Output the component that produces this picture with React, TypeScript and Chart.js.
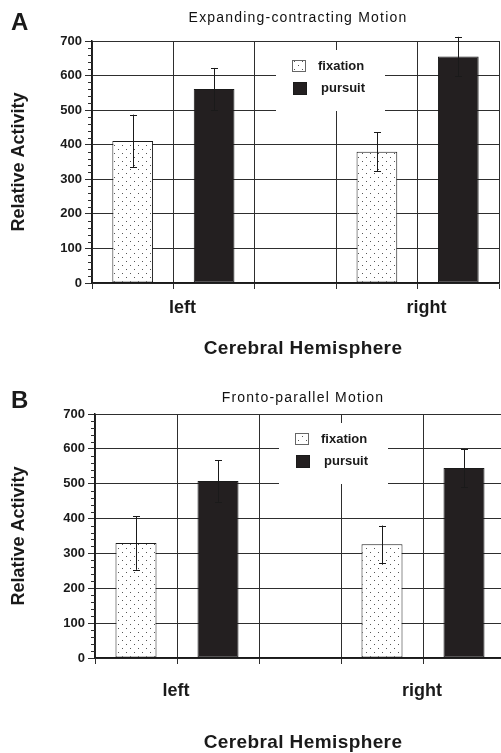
import React, { useEffect, useRef } from 'react';
import { Chart, registerables } from 'chart.js';

Chart.register(...registerables);

// ---------- data ----------
const categories = ['left', 'right'];
const seriesNames = ['fixation', 'pursuit'];
const yMin = 0;
const yMax = 700;
const yStep = 100;
const yMinorStep = 20;

const expandingFixation = [411, 380];
const expandingFixationErr = [76, 56];
const expandingPursuit = [561, 655];
const expandingPursuitErr = [61, 57];

const frontoFixation = [330, 326];
const frontoFixationErr = [77, 54];
const frontoPursuit = [508, 545];
const frontoPursuitErr = [60, 55];

const panelLetters = ['A', 'B'];
const panelTitles = ['Expanding-contracting Motion', 'Fronto-parallel Motion'];
const yTitle = 'Relative Activity';
const xTitle = 'Cerebral Hemisphere';

// ---------- layout ----------
const FONT = '"Liberation Sans", Arial, Helvetica, sans-serif';
const INK = '#1a1a1a';
const GRID = '#2e2e2e';

const groupCenter = (i: number) => 1 + 3 * i;

type Layout = {
  width: number; height: number; top: number;
  padTop: number; padRight: number; yWidth: number; xHeight: number;
  tickPad: number; labelOffset: number;
  letterBaseline: number; titleX: number; titleBaseline: number;
  xTitleX: number; xTitleBaseline: number;
};

const layouts: Layout[] = [
  { width: 501, height: 375, top: 0, padTop: 41, padRight: 2, yWidth: 92, xHeight: 92,
    tickPad: 8, labelOffset: 9, letterBaseline: 30, titleX: 298, titleBaseline: 22,
    xTitleX: 303, xTitleBaseline: 354 },
  { width: 510, height: 378, top: 375, padTop: 39, padRight: 5, yWidth: 95, xHeight: 95,
    tickPad: 16, labelOffset: -1, letterBaseline: 33, titleX: 303, titleBaseline: 27,
    xTitleX: 303, xTitleBaseline: 373 },
];

function makePattern(): CanvasPattern | string {
  const tile = document.createElement('canvas');
  tile.width = 8;
  tile.height = 8;
  const t = tile.getContext('2d');
  if (!t) return '#fff';
  t.fillStyle = '#ffffff';
  t.fillRect(0, 0, 8, 8);
  t.fillStyle = '#555555';
  t.fillRect(2, 1, 1, 1);
  t.fillRect(6, 5, 1, 1);
  const ctx = document.createElement('canvas').getContext('2d');
  const p = ctx ? ctx.createPattern(tile, 'repeat') : null;
  return p || '#fff';
}

type PanelProps = {
  index: number;
  fixation: number[]; fixationErr: number[];
  pursuit: number[]; pursuitErr: number[];
};

function Panel({ index, fixation, fixationErr, pursuit, pursuitErr }: PanelProps) {
  const ref = useRef<HTMLCanvasElement | null>(null);
  const L = layouts[index];

  useEffect(() => {
    const canvas = ref.current;
    if (!canvas) return;
    const pattern = makePattern();
    const errs = [fixationErr, pursuitErr];

    const decor = {
      id: 'decor' + index,
      afterDraw(chart: any) {
        const ctx = chart.ctx as CanvasRenderingContext2D;
        const area = chart.chartArea;
        const ys = chart.scales.y;
        ctx.save();
        // minor ticks on y axis
        ctx.strokeStyle = GRID;
        ctx.lineWidth = 1;
        for (let v = yMin; v <= yMax; v += yMinorStep) {
          if (v % yStep === 0) continue;
          const py = Math.round(ys.getPixelForValue(v)) + 0.5;
          ctx.beginPath();
          ctx.moveTo(area.left - 4, py);
          ctx.lineTo(area.left, py);
          ctx.stroke();
        }
        // error bars
        ctx.strokeStyle = INK;
        chart.data.datasets.forEach((ds: any, di: number) => {
          const meta = chart.getDatasetMeta(di);
          meta.data.forEach((el: any, i: number) => {
            const v = ds.data[i].y;
            const e = errs[di][i];
            const px = Math.round(el.x) + 0.5;
            const yt = ys.getPixelForValue(v + e);
            const yb = ys.getPixelForValue(v - e);
            ctx.beginPath();
            ctx.moveTo(px, yt);
            ctx.lineTo(px, yb);
            ctx.moveTo(px - 3.5, Math.round(yt) + 0.5);
            ctx.lineTo(px + 3.5, Math.round(yt) + 0.5);
            ctx.moveTo(px - 3.5, Math.round(yb) + 0.5);
            ctx.lineTo(px + 3.5, Math.round(yb) + 0.5);
            ctx.stroke();
          });
        });
        // legend box
        const lx = area.left + 184;
        const ly = area.top + 9;
        ctx.fillStyle = '#ffffff';
        ctx.fillRect(lx, ly, 109, 61);
        const swatches = [
          { x: area.left + 200, y: area.top + 19, w: 14, h: 12, tx: area.left + 226, ty: area.top + 25 },
          { x: area.left + 201, y: area.top + 41, w: 14, h: 13, tx: area.left + 229, ty: area.top + 47 },
        ];
        chart.data.datasets.forEach((ds: any, di: number) => {
          const s = swatches[di];
          ctx.fillStyle = ds.backgroundColor;
          ctx.fillRect(s.x, s.y, s.w, s.h);
          ctx.strokeStyle = di === 0 ? '#666' : INK;
          ctx.lineWidth = 1;
          ctx.strokeRect(s.x + 0.5, s.y + 0.5, s.w - 1, s.h - 1);
          ctx.fillStyle = INK;
          ctx.font = `bold 13px ${FONT}`;
          ctx.textAlign = 'left';
          ctx.textBaseline = 'middle';
          ctx.fillText(ds.label, s.tx, s.ty);
        });
        // panel letter
        ctx.fillStyle = INK;
        ctx.textBaseline = 'alphabetic';
        ctx.textAlign = 'left';
        ctx.font = `bold 24px ${FONT}`;
        ctx.fillText(panelLetters[index], 11, L.letterBaseline);
        // title
        ctx.font = `14px ${FONT}`;
        ctx.textAlign = 'center';
        (ctx as any).letterSpacing = '1.2px';
        ctx.fillStyle = '#111';
        ctx.fillText(panelTitles[index], L.titleX, L.titleBaseline);
        // x title
        ctx.font = `bold 19px ${FONT}`;
        (ctx as any).letterSpacing = '0.4px';
        ctx.fillStyle = INK;
        ctx.fillText(xTitle, L.xTitleX, L.xTitleBaseline);
        (ctx as any).letterSpacing = '0px';
        ctx.restore();
      },
    };

    const chart = new Chart(canvas, {
      type: 'bar',
      data: {
        datasets: [
          {
            label: seriesNames[0],
            data: categories.map((_, i) => ({ x: groupCenter(i) - 0.5, y: fixation[i] })),
            backgroundColor: pattern as any,
            borderColor: INK,
            borderWidth: 1,
            borderSkipped: false,
          },
          {
            label: seriesNames[1],
            data: categories.map((_, i) => ({ x: groupCenter(i) + 0.5, y: pursuit[i] })),
            backgroundColor: '#231f20',
            borderColor: INK,
            borderWidth: 1,
            borderSkipped: false,
          },
        ] as any,
      },
      options: {
        responsive: false,
        animation: false,
        events: [],
        datasets: { bar: { grouped: false, barPercentage: 0.5, categoryPercentage: 1 } } as any,
        layout: { padding: { top: L.padTop, right: L.padRight, left: 0, bottom: 0 } },
        plugins: {
          legend: { display: false },
          title: { display: false },
          tooltip: { enabled: false },
        },
        scales: {
          x: {
            type: 'linear',
            min: 0,
            max: 5,
            offset: false,
            afterFit: (s: any) => {
              s.height = L.xHeight;
              s.paddingLeft = 0;
              s.paddingRight = 0;
            },
            grid: { offset: false, color: GRID, lineWidth: 1, tickLength: 6, tickColor: GRID, drawTicks: true },
            border: { display: true, color: INK, width: 1.5 },
            ticks: {
              stepSize: 1,
              autoSkip: false,
              maxRotation: 0,
              minRotation: 0,
              padding: L.tickPad,
              labelOffset: L.labelOffset,
              color: INK,
              font: { family: FONT, size: 18, weight: 'bold' },
              callback: (v: any) => {
                const i = categories.findIndex((_, k) => groupCenter(k) === Number(v));
                return i >= 0 ? categories[i] : '';
              },
            },
          },
          y: {
            min: yMin,
            max: yMax,
            afterFit: (s: any) => { s.width = L.yWidth; },
            grid: { color: GRID, lineWidth: 1, tickLength: 7, tickColor: GRID },
            border: { display: true, color: INK, width: 1.5 },
            ticks: {
              stepSize: yStep,
              padding: 3,
              color: INK,
              font: { family: FONT, size: 13, weight: 'bold' },
            },
            title: {
              display: true,
              text: yTitle,
              color: INK,
              font: { family: FONT, size: 18, weight: 'bold' },
              padding: { top: 8, bottom: 0 },
            },
          },
        },
      } as any,
      plugins: [decor],
    });

    return () => chart.destroy();
  }, []);

  return (
    <canvas
      ref={ref}
      width={L.width}
      height={L.height}
      style={{ position: 'absolute', left: 0, top: L.top, width: L.width, height: L.height, display: 'block' }}
    />
  );
}

export default function App() {
  return (
    <div
      style={{
        position: 'fixed', left: 0, top: 0, width: 501, height: 753,
        overflow: 'hidden', background: '#ffffff',
      }}
    >
      <Panel index={0} fixation={expandingFixation} fixationErr={expandingFixationErr}
        pursuit={expandingPursuit} pursuitErr={expandingPursuitErr} />
      <Panel index={1} fixation={frontoFixation} fixationErr={frontoFixationErr}
        pursuit={frontoPursuit} pursuitErr={frontoPursuitErr} />
    </div>
  );
}
